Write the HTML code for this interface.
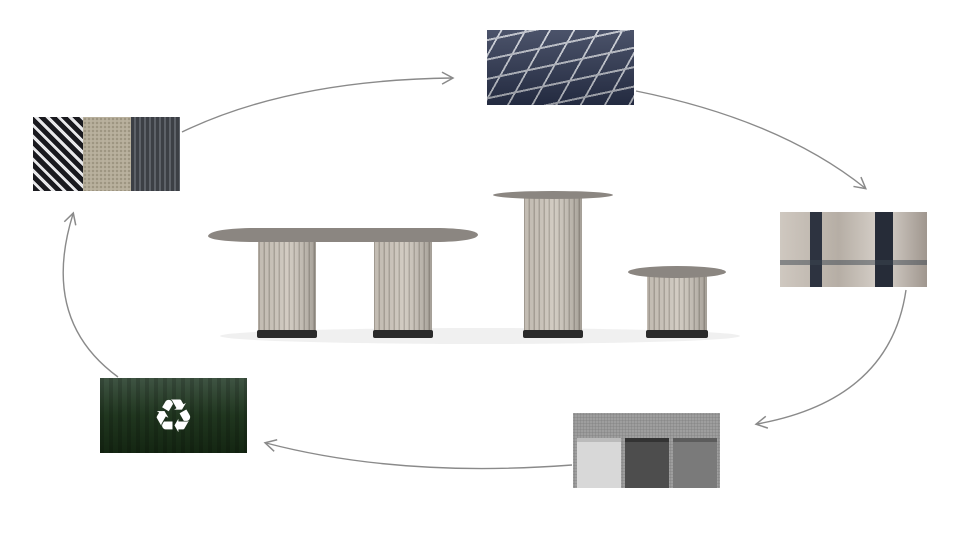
<!DOCTYPE html>
<html><head><meta charset="utf-8"><style>
html,body{margin:0;padding:0;background:#fff;}
body{width:960px;height:540px;position:relative;overflow:hidden;font-family:"Liberation Sans","DejaVu Sans",sans-serif;}
.img{position:absolute;overflow:hidden;}
</style></head><body>
<svg width="960" height="540" style="position:absolute;left:0;top:0">
<defs>
<marker id="ah" markerWidth="14" markerHeight="14" refX="11" refY="7" orient="auto" markerUnits="userSpaceOnUse">
<path d="M1,1 L12,7 L1,13" fill="none" stroke="#8a8a8a" stroke-width="1.5"/></marker>
<pattern id="flute" width="5" height="10" patternUnits="userSpaceOnUse">
<rect width="5" height="10" fill="#cdc6bc"/><rect x="3.5" width="1.5" height="10" fill="#a9a298"/></pattern>
<linearGradient id="shade" x1="0" x2="1">
<stop offset="0" stop-color="#000" stop-opacity="0.05"/><stop offset="0.5" stop-color="#fff" stop-opacity="0.1"/><stop offset="1" stop-color="#000" stop-opacity="0.2"/></linearGradient>
</defs>
<g fill="none" stroke="#8a8a8a" stroke-width="1.4">
<path d="M182,132 Q290,80 452,78" marker-end="url(#ah)"/>
<path d="M636,91 Q780,120 865,188" marker-end="url(#ah)"/>
<path d="M906,290 Q890,400 757,424" marker-end="url(#ah)"/>
<path d="M572,465 Q400,478 266,443" marker-end="url(#ah)"/>
<path d="M118,377 Q40,320 73,214" marker-end="url(#ah)"/>
</g>
<!-- shadows -->
<ellipse cx="480" cy="336" rx="260" ry="8" fill="#000" opacity="0.06"/>
<!-- long table -->
<rect x="258" y="240" width="58" height="94" fill="url(#flute)"/><rect x="258" y="240" width="58" height="94" fill="url(#shade)"/>
<rect x="257" y="330" width="60" height="8" rx="2" fill="#2a2a2a"/>
<rect x="374" y="240" width="58" height="94" fill="url(#flute)"/><rect x="374" y="240" width="58" height="94" fill="url(#shade)"/>
<rect x="373" y="330" width="60" height="8" rx="2" fill="#2a2a2a"/>
<path d="M208,236 Q210,229 250,228 L440,228 Q478,229 478,235 Q476,241 440,242 L250,242 Q209,241 208,236Z" fill="#8b8681"/>
<!-- tall table -->
<rect x="524" y="197" width="58" height="137" fill="url(#flute)"/><rect x="524" y="197" width="58" height="137" fill="url(#shade)"/>
<rect x="523" y="330" width="60" height="8" rx="2" fill="#2a2a2a"/>
<ellipse cx="553" cy="195" rx="60" ry="4" fill="#8b8681"/>
<!-- small table -->
<rect x="647" y="276" width="60" height="58" fill="url(#flute)"/><rect x="647" y="276" width="60" height="58" fill="url(#shade)"/>
<rect x="646" y="330" width="62" height="8" rx="2" fill="#2a2a2a"/>
<ellipse cx="677" cy="272" rx="49" ry="6" fill="#8b8681"/>
</svg>

<!-- top-left materials -->
<div class="img" style="left:33px;top:117px;width:147px;height:74px;">
<div style="position:absolute;left:0;top:0;width:50px;height:74px;background:repeating-linear-gradient(45deg,#1a1a1f 0 5px,#e8e8ea 5px 8px);"></div>
<div style="position:absolute;left:50px;top:0;width:48px;height:74px;background:#b9b19e;background-image:radial-gradient(#9d9581 1px,transparent 1.5px);background-size:4px 4px;"></div>
<div style="position:absolute;left:98px;top:0;width:49px;height:74px;background:repeating-linear-gradient(90deg,#3c3f45 0 3px,#5d6168 3px 5px);"></div>
</div>

<!-- solar -->
<div class="img" style="left:487px;top:30px;width:147px;height:75px;background:#1e2436;">
<div style="position:absolute;left:-30px;top:-20px;width:220px;height:120px;transform:skewX(-35deg) rotate(-8deg);background:repeating-linear-gradient(90deg,#2c3550 0 22px,#c9cdd6 22px 24px),#2c3550;"></div>
<div style="position:absolute;left:0;top:0;width:147px;height:75px;background:repeating-linear-gradient(-12deg,transparent 0 17px,#b8bcc6 17px 19px);"></div>
<div style="position:absolute;left:0;top:0;width:147px;height:75px;background:linear-gradient(180deg,rgba(255,255,255,0.15),rgba(0,0,0,0.2));"></div>
</div>

<!-- glass -->
<div class="img" style="left:780px;top:212px;width:147px;height:75px;background:linear-gradient(90deg,#cfc8c0,#b6aea5 40%,#d8d2cb 70%,#9f968e);">
<div style="position:absolute;left:30px;top:0;width:12px;height:75px;background:#2d3340;"></div>
<div style="position:absolute;left:95px;top:0;width:18px;height:75px;background:#262c38;"></div>
<div style="position:absolute;left:0;top:48px;width:147px;height:5px;background:rgba(60,70,80,0.5);"></div>
</div>

<!-- bins -->
<div class="img" style="left:573px;top:413px;width:147px;height:75px;background:#a5a5a5;background-image:radial-gradient(#8a8a8a 1px,transparent 1.5px);background-size:3px 3px;">
<div style="position:absolute;left:4px;top:25px;width:44px;height:50px;background:#d8d8d8;border-top:4px solid #bbb;"></div>
<div style="position:absolute;left:52px;top:25px;width:44px;height:50px;background:#4d4d4d;border-top:4px solid #333;"></div>
<div style="position:absolute;left:100px;top:25px;width:44px;height:50px;background:#7a7a7a;border-top:4px solid #5c5c5c;"></div>
</div>

<!-- forest -->
<div class="img" style="left:100px;top:378px;width:147px;height:75px;background:linear-gradient(180deg,#3f5443,#20361f 50%,#142612);">
<div style="position:absolute;left:0;top:0;width:147px;height:75px;background:repeating-linear-gradient(90deg,rgba(0,0,0,0.25) 0 4px,transparent 4px 9px);opacity:0.6;"></div>
<div style="position:absolute;left:0;top:8px;width:147px;height:60px;text-align:center;color:#fff;font-family:'DejaVu Sans',sans-serif;font-size:46px;line-height:60px;">♻</div>
</div>
</body></html>
